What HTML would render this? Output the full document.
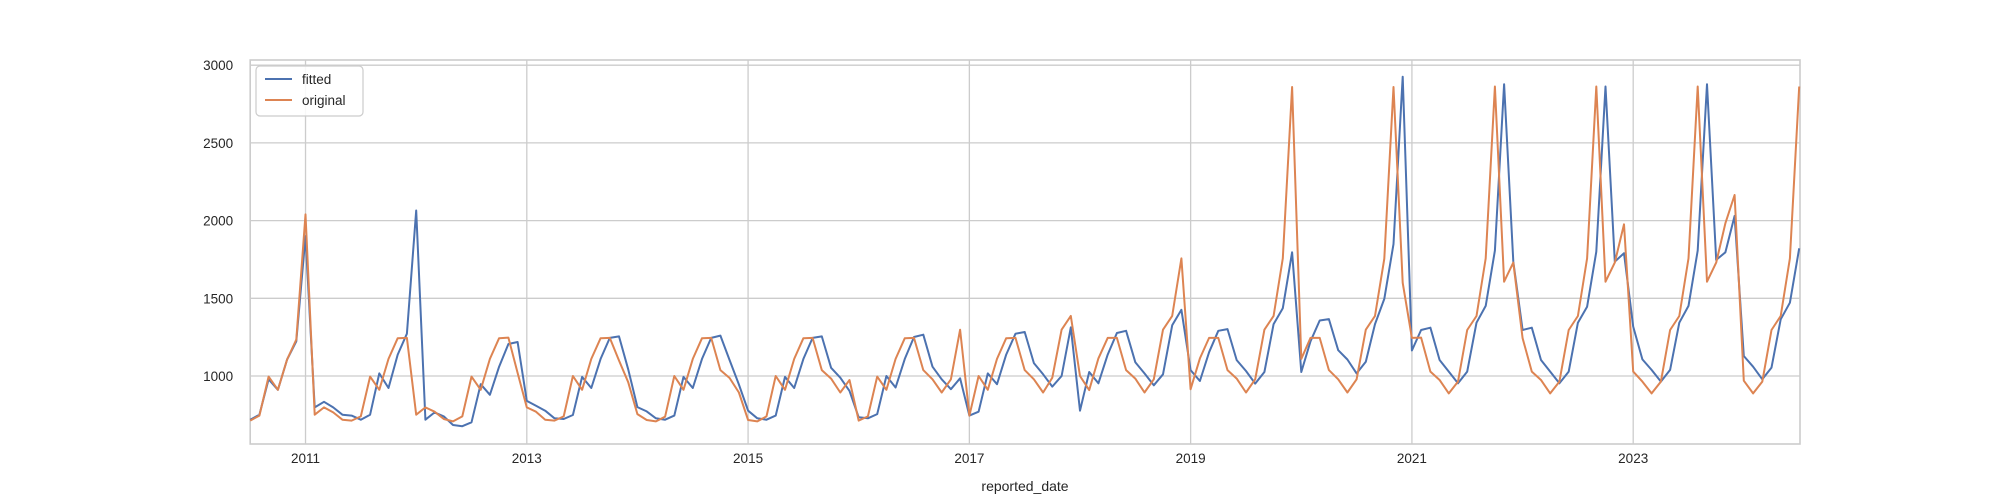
<!DOCTYPE html>
<html><head><meta charset="utf-8"><style>
html,body{margin:0;padding:0;background:#fff;}
svg{display:block;font-family:"Liberation Sans",sans-serif;}
</style></head><body>
<svg id="chart" width="2000" height="500" viewBox="0 0 2000 500" xmlns="http://www.w3.org/2000/svg">
<rect width="2000" height="500" fill="#fff"/>
<g id="grid"></g>
<g id="axes"></g>
<g id="series"></g>
<g id="legend">
  <rect x="256" y="66" width="107" height="50" rx="4" fill="#fff" fill-opacity="0.85" stroke="#cccccc" stroke-width="1.2"/>
  <g>
    <line x1="265" y1="79" x2="292" y2="79" stroke="#4c72b0" stroke-width="2"/>
    <text x="302" y="84" font-size="13.5" fill="#262626">fitted</text>
  </g>
  <g>
    <line x1="265" y1="100" x2="292" y2="100" stroke="#dd8452" stroke-width="2"/>
    <text x="302" y="105" font-size="13.5" fill="#262626">original</text>
  </g>
</g>
<text x="1025" y="491" font-size="14" fill="#262626" text-anchor="middle">reported_date</text>
</svg>
<script>
const startYear = 2010, startMonth = 7;
const yTicks = [1000, 1500, 2000, 2500, 3000];
const xTickYears = [2011, 2013, 2015, 2017, 2019, 2021, 2023];
const fitted = [719,751,979,911,1106,1223,1900,798,834,798,751,745,719,751,1017,923,1138,1272,2065,719,766,740,685,677,702,947,879,1060,1206,1219,840,808,777,728,723,749,994,923,1110,1245,1255,1043,800,772,728,719,745,994,923,1110,1245,1260,1102,945,777,728,719,745,994,923,1110,1245,1255,1053,989,904,734,728,755,1000,926,1110,1251,1266,1060,979,915,985,745,770,1017,947,1138,1272,1283,1083,1011,932,1000,1313,777,1026,953,1138,1277,1291,1089,1017,940,1011,1326,1426,1038,968,1153,1291,1302,1102,1032,951,1026,1334,1436,1796,1026,1223,1357,1366,1166,1106,1017,1092,1334,1496,1849,2926,1164,1296,1311,1103,1028,953,1028,1343,1451,1807,2878,1736,1296,1311,1103,1028,953,1028,1343,1446,1800,2863,1736,1790,1318,1107,1039,964,1039,1343,1451,1807,2878,1747,1796,2030,1129,1060,979,1054,1365,1472,1822];
const original = [713,745,996,911,1106,1234,2040,751,798,766,719,713,740,996,911,1110,1243,1245,751,798,770,723,708,740,996,911,1110,1243,1247,1020,798,770,719,713,740,1000,911,1110,1243,1245,1100,960,755,717,708,738,1000,911,1110,1243,1245,1038,987,894,717,708,740,1000,911,1110,1243,1245,1038,983,894,974,713,740,996,911,1110,1243,1245,1038,979,894,979,1298,745,1000,911,1110,1243,1245,1038,979,894,989,1298,1387,1000,909,1113,1245,1245,1038,983,894,979,1298,1387,1757,915,1113,1245,1245,1038,983,894,979,1298,1387,1757,2860,1110,1245,1245,1038,979,894,979,1298,1387,1755,2860,1600,1245,1247,1028,974,888,964,1296,1386,1757,2863,1607,1730,1243,1028,974,888,964,1296,1386,1757,2863,1607,1730,1976,1028,964,888,964,1296,1386,1757,2863,1607,1730,1983,2165,970,888,964,1296,1386,1757,2863];

const L=250.2, R=1800, T=60, B=444;
const monthStep=9.22;
function xOfIndex(i){return L+monthStep*i;}
function xOfYear(y){return xOfIndex((y-startYear)*12+(1-startMonth));}
function yOf(v){return 376-(v-1000)*0.1554;}
const NS="http://www.w3.org/2000/svg";
function mk(tag,attrs,parent){const e=document.createElementNS(NS,tag);for(const k in attrs)e.setAttribute(k,attrs[k]);parent.appendChild(e);return e;}
const grid=document.getElementById('grid'), axes=document.getElementById('axes'), series=document.getElementById('series');

yTicks.forEach(v=>{
  const y=yOf(v);
  const g=mk('line',{x1:L,x2:R,y1:y,y2:y,stroke:'#cccccc','stroke-width':1.3},grid);
  
  
  const t=mk('text',{x:L-17,y:y+5,'font-size':13.5,fill:'#262626','text-anchor':'end'},axes);
  t.textContent=v;
  
  
});
xTickYears.forEach(yr=>{
  const x=xOfYear(yr);
  const g=mk('line',{x1:x,x2:x,y1:T,y2:B,stroke:'#cccccc','stroke-width':1.3},grid);
  
  
  const t=mk('text',{x:x,y:463,'font-size':13.5,fill:'#262626','text-anchor':'middle'},axes);
  t.textContent=yr;
  
  
});
const frame=mk('rect',{x:L,y:T,width:R-L,height:B-T,fill:'none',stroke:'#cccccc','stroke-width':1.6},axes);



function path(arr){return arr.map((v,i)=>(i?'L':'M')+xOfIndex(i).toFixed(1)+' '+yOf(v).toFixed(1)).join(' ');}
const pf=mk('path',{d:path(fitted),fill:'none',stroke:'#4c72b0','stroke-width':2,'stroke-linejoin':'round'},series);


const po=mk('path',{d:path(original),fill:'none',stroke:'#dd8452','stroke-width':2,'stroke-linejoin':'round'},series);


</script>
</body></html>
